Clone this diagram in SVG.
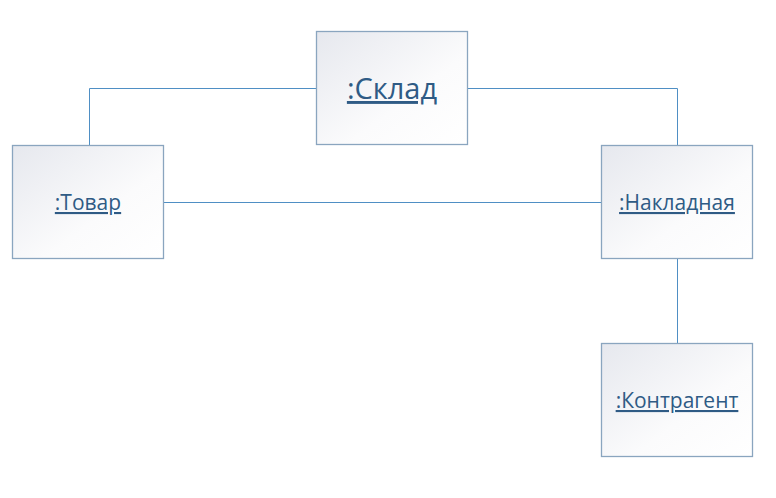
<svg xmlns="http://www.w3.org/2000/svg" width="776" height="498" viewBox="0 0 776 498">
<style>
.box{fill:url(#g);stroke:#8aa5bf;stroke-width:1.3}
.lbl{font-family:"Open Sans","Liberation Sans",sans-serif;fill:#2f5b85;text-anchor:middle;text-decoration:underline}
.conn{fill:none;stroke:#4f8fc4;stroke-width:1}
</style>
<defs>
<linearGradient id="g" x1="0" y1="0" x2="1" y2="1">
<stop offset="0" stop-color="#e6e8ee"/>
<stop offset="0.6" stop-color="#fbfbfc"/>
<stop offset="1" stop-color="#ffffff"/>
</linearGradient>
</defs>
<rect width="776" height="498" fill="#fff"/>
<g id="connectors">
<polyline class="conn" points="316,88.5 89.5,88.5 89.5,145"/>
<polyline class="conn" points="467,88.5 677.5,88.5 677.5,145"/>
<line class="conn" x1="163" y1="202.5" x2="601" y2="202.5"/>
<line class="conn" x1="677.5" y1="258" x2="677.5" y2="343"/>
</g>
<g id="sklad">
<rect class="box" x="316.5" y="31.5" width="151" height="113"/>
<text class="lbl" x="392" y="99" font-size="29">:Склад</text>
</g>
<g id="tovar">
<rect class="box" x="12.5" y="145.5" width="151" height="113"/>
<text class="lbl" x="88" y="210" font-size="21">:Товар</text>
</g>
<g id="nakladnaya">
<rect class="box" x="601.5" y="145.5" width="151" height="113"/>
<text class="lbl" x="677" y="210" font-size="21">:Накладная</text>
</g>
<g id="kontragent">
<rect class="box" x="601.5" y="343.5" width="151" height="113"/>
<text class="lbl" x="677" y="408" font-size="21">:Контрагент</text>
</g>
</svg>
